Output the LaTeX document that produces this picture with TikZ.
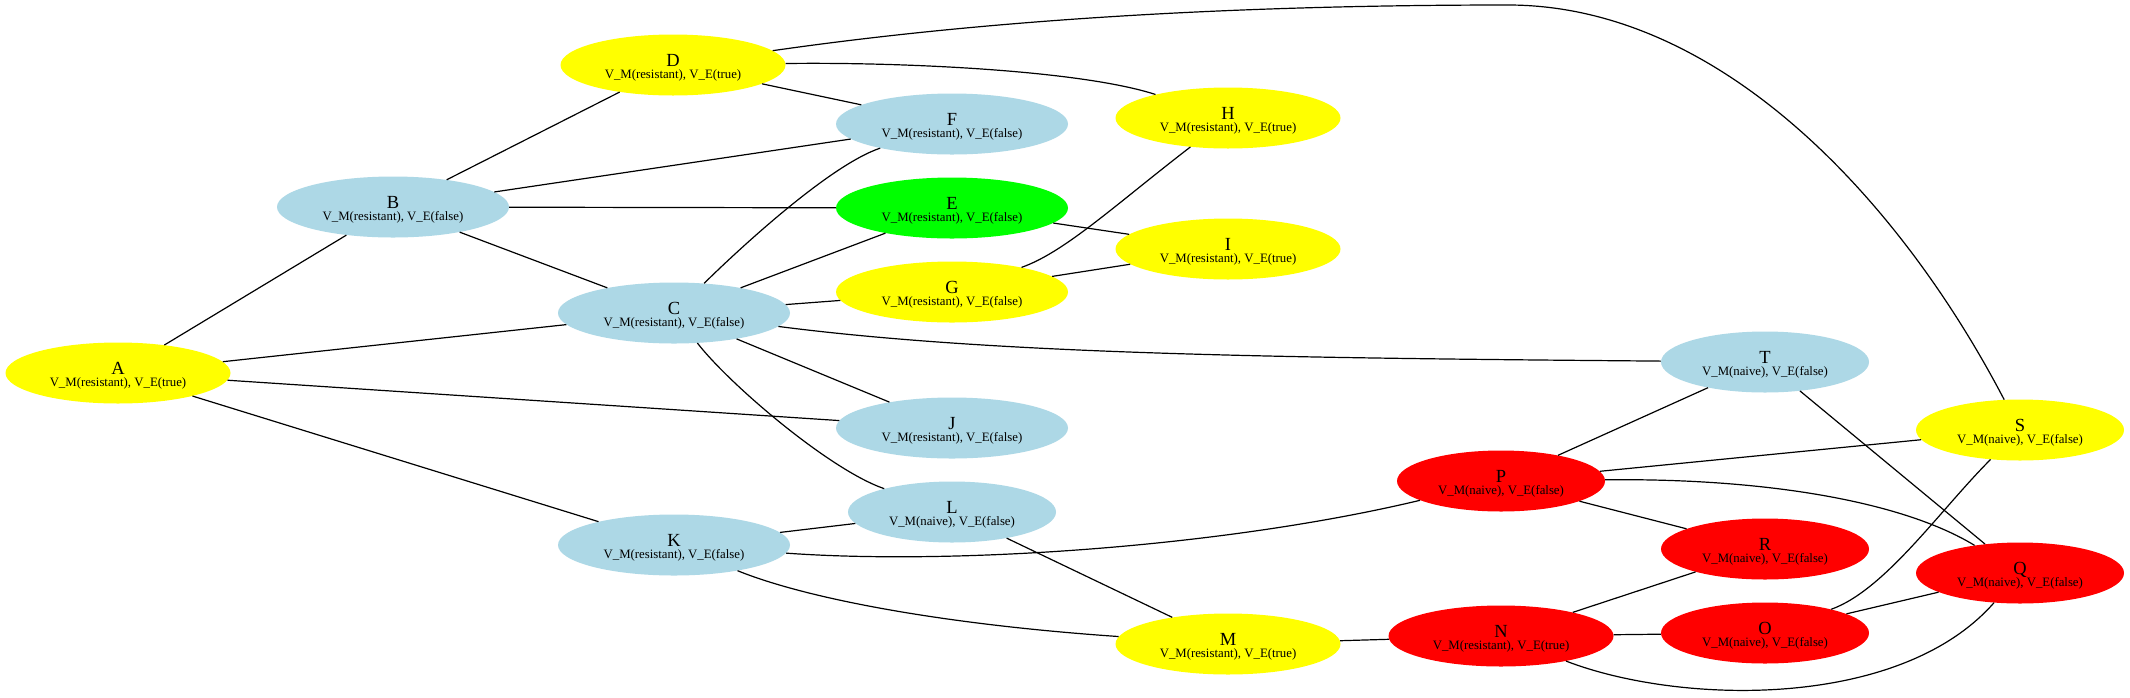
\documentclass[tikz,border=0pt]{standalone}
\usepackage{fontspec}
\setmainfont{Liberation Serif}
\usetikzlibrary{shapes.geometric}
\definecolor{lblue}{RGB}{173,216,230}
\definecolor{gyellow}{RGB}{255,255,0}
\definecolor{ggreen}{RGB}{0,255,0}
\definecolor{gred}{RGB}{255,0,0}
\newcommand{\nlab}[3]{{\fontsize{18.5}{18.5}\selectfont\rule{0pt}{18pt}#1}\\V\_M(#2), V\_E(#3)}
\tikzset{
  gnode/.style={ellipse, inner sep=0pt, minimum height=61pt, align=center,
    font=\fontsize{12.8}{12.4}\selectfont},
  rt/.style={gnode, minimum width=225pt},
  rf/.style={gnode, minimum width=232pt},
  nf/.style={gnode, minimum width=208pt},
  yel/.style={fill=gyellow},
  blu/.style={fill=lblue},
  grn/.style={fill=ggreen},
  rd/.style={fill=gred},
  edge/.style={draw=black, line width=1.2pt}
}
\begin{document}
\begin{tikzpicture}[x=1pt, y=-1pt]
\fill[white] (0,0) rectangle (2130,697);
\useasboundingbox (0,0) rectangle (2130,697);

\coordinate (dsmid) at (1508,5);

\node[rt, yel] (A) at (118,373) {\nlab{A}{resistant}{true}};
\node[rf, blu] (B) at (393,207) {\nlab{B}{resistant}{false}};
\node[rf, blu] (C) at (674,313) {\nlab{C}{resistant}{false}};
\node[rt, yel] (D) at (673,65)  {\nlab{D}{resistant}{true}};
\node[rf, grn] (E) at (952,208) {\nlab{E}{resistant}{false}};
\node[rf, blu] (F) at (952,124) {\nlab{F}{resistant}{false}};
\node[rf, yel] (G) at (952,292) {\nlab{G}{resistant}{false}};
\node[rt, yel] (H) at (1228,118) {\nlab{H}{resistant}{true}};
\node[rt, yel] (I) at (1228,249) {\nlab{I}{resistant}{true}};
\node[rf, blu] (J) at (952,428) {\nlab{J}{resistant}{false}};
\node[rf, blu] (K) at (674,545) {\nlab{K}{resistant}{false}};
\node[nf, blu] (L) at (952,512) {\nlab{L}{naive}{false}};
\node[rt, yel] (M) at (1228,644) {\nlab{M}{resistant}{true}};
\node[rt, rd]  (N) at (1501,636) {\nlab{N}{resistant}{true}};
\node[nf, rd]  (O) at (1765,633) {\nlab{O}{naive}{false}};
\node[nf, rd]  (P) at (1501,481) {\nlab{P}{naive}{false}};
\node[nf, rd]  (Q) at (2020,573) {\nlab{Q}{naive}{false}};
\node[nf, rd]  (R) at (1765,549) {\nlab{R}{naive}{false}};
\node[nf, yel] (S) at (2020,430) {\nlab{S}{naive}{false}};
\node[nf, blu] (T) at (1765,362) {\nlab{T}{naive}{false}};

\path[edge] (A) -- (B);
\path[edge] (A) -- (C);
\path[edge] (A) -- (J);
\path[edge] (A) -- (K);
\path[edge] (B) -- (D);
\path[edge] (B) -- (F);
\path[edge] (B) -- (E);
\path[edge] (B) -- (C);
\path[edge] (C) .. controls (740,248) and (830,165) .. (F);
\path[edge] (C) -- (E);
\path[edge] (C) -- (G);
\path[edge] (C) .. controls (1000,355) and (1300,358) .. (T);
\path[edge] (C) -- (J);
\path[edge] (C) .. controls (730,385) and (830,470) .. (L);
\path[edge] (D) -- (F);
\path[edge] (D) .. controls (900,62) and (1080,70) .. (H);
\path[edge] (D) .. controls (1000,18) and (1250,5) .. (dsmid)
                .. controls (1720,5) and (1900,200) .. (S);
\path[edge] (E) -- (I);
\path[edge] (G) .. controls (1065,252) and (1115,205) .. (H);
\path[edge] (G) -- (I);
\path[edge] (K) -- (L);
\path[edge] (K) .. controls (950,565) and (1220,548) .. (P);
\path[edge] (K) .. controls (810,600) and (950,625) .. (M);
\path[edge] (L) -- (M);
\path[edge] (M) -- (N);
\path[edge] (N) -- (O);
\path[edge] (N) -- (R);
\path[edge] (N) .. controls (1680,705) and (1900,710) .. (Q);
\path[edge] (O) .. controls (1885,590) and (1940,510) .. (S);
\path[edge] (O) -- (Q);
\path[edge] (P) -- (T);
\path[edge] (P) -- (S);
\path[edge] (P) -- (R);
\path[edge] (P) .. controls (1760,478) and (1900,500) .. (Q);
\path[edge] (T) -- (Q);
\end{tikzpicture}
\end{document}
